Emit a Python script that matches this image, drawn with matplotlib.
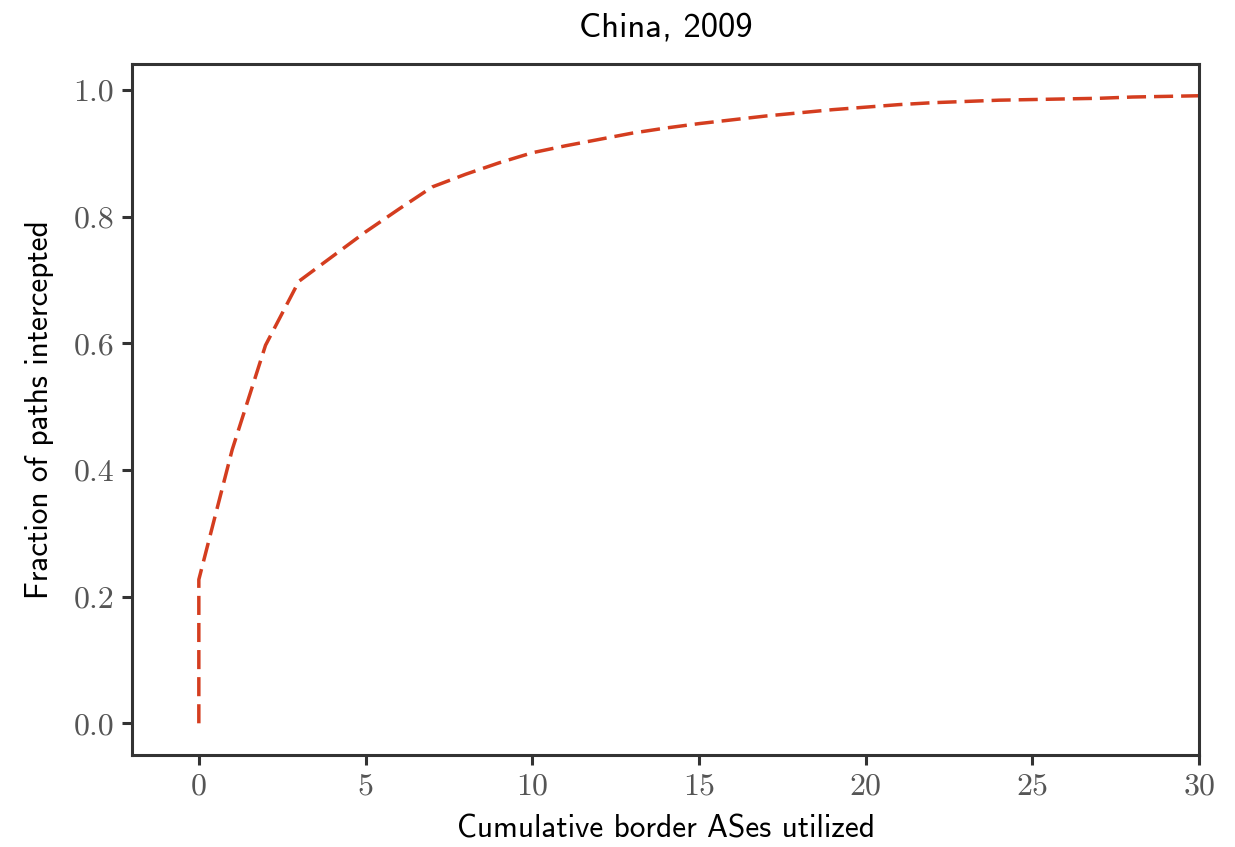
import matplotlib
matplotlib.use('Agg')
import matplotlib.pyplot as plt

# cumulative fraction of paths intercepted vs. number of border ASes
border_ases = [0, 0, 1, 2, 3, 4, 5, 6, 7, 8, 9, 10, 11, 12, 13, 14, 15, 16, 17, 18, 19, 20,
               21, 22, 23, 24, 25, 26, 27, 28, 29, 30]
frac_intercepted = [0.0, 0.227, 0.432, 0.597, 0.698, 0.737, 0.776, 0.812, 0.847, 0.867, 0.885,
                    0.901, 0.912, 0.922, 0.932, 0.940, 0.947, 0.953, 0.959, 0.964, 0.969,
                    0.973, 0.977, 0.980, 0.982, 0.984, 0.985, 0.986, 0.987, 0.989, 0.990, 0.991]
x_ticks = [0, 5, 10, 15, 20, 25, 30]
y_ticks = [0.0, 0.2, 0.4, 0.6, 0.8, 1.0]

fig = plt.figure(figsize=(12.35, 8.47), dpi=100)
ax = fig.add_axes([0.107, 0.109, 0.864, 0.815])

ax.plot(border_ases, frac_intercepted, linestyle='--', dashes=(5.5, 2.3),
        color='#d43d1f', linewidth=2.5)

ax.set_xlim(-2, 30)
ax.set_xticks(x_ticks)
ax.set_yticks(y_ticks)
ax.set_xticklabels([str(t) for t in x_ticks], fontfamily='cmr10', fontsize=23, color='#555555')
ax.set_yticklabels(['%.1f' % t for t in y_ticks], fontfamily='cmr10', fontsize=23, color='#555555')

for s in ax.spines.values():
    s.set_color('#333333')
    s.set_linewidth(2.2)
ax.tick_params(direction='out', length=7, width=2.2, color='#333333', pad=6)

ax.set_title('China, 2009', fontfamily='cmss10', fontsize=25, pad=20)
ax.set_xlabel('Cumulative border ASes utilized', fontfamily='cmss10', fontsize=22.5, labelpad=10)
ax.set_ylabel('Fraction of paths intercepted', fontfamily='cmss10', fontsize=22.5, labelpad=14)

fig.savefig('out.png', dpi=100)
